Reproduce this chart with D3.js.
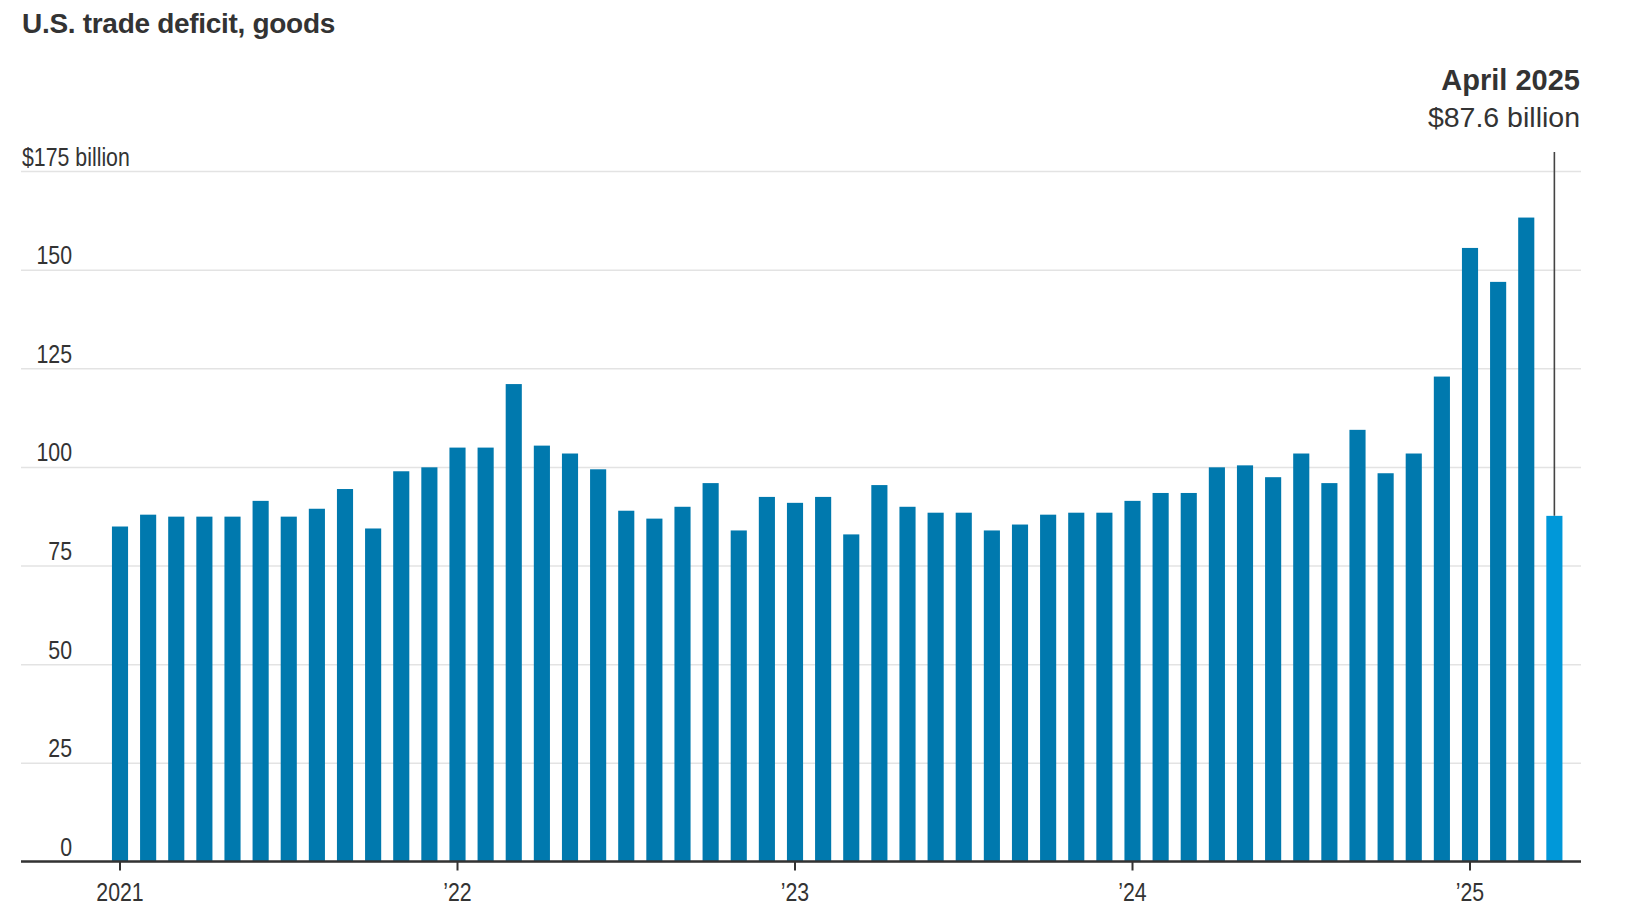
<!DOCTYPE html>
<html>
<head>
<meta charset="utf-8">
<script src="https://cdn.jsdelivr.net/npm/d3@7/dist/d3.min.js"></script>
<style>
  html, body { margin: 0; padding: 0; background: #fff; }
  svg { display: block; }
</style>
</head>
<body>
<svg id="chart" width="1630" height="920"></svg>
<script>
// ---------------- DATA ----------------
const months = d3.timeMonth.range(new Date(2021, 0, 1), new Date(2025, 4, 1)); // Jan 2021 .. Apr 2025
const deficit = [
  84.9, 87.9, 87.4, 87.4, 87.4, 91.4, 87.4, 89.4, 94.4, 84.4, 98.9, 99.9,      // 2021
  104.9, 104.9, 121.0, 105.4, 103.4, 99.4, 88.9, 86.9, 89.9, 95.9, 83.9, 92.4, // 2022
  90.9, 92.4, 82.9, 95.4, 89.9, 88.4, 88.4, 83.9, 85.4, 87.9, 88.4, 88.4,      // 2023
  91.4, 93.4, 93.4, 99.9, 100.4, 97.4, 103.4, 95.9, 109.4, 98.4, 103.4, 122.9, // 2024
  155.5, 146.9, 163.2, 87.6                                                    // 2025
];
const yTicks = [0, 25, 50, 75, 100, 125, 150, 175];
const yTickLabels = ["0", "25", "50", "75", "100", "125", "150", "$175 billion"];
const xTickLabels = ["2021", "\u201922", "\u201923", "\u201924", "\u201925"];
const titleText = "U.S. trade deficit, goods";
const annoTitle = "April 2025";
const annoValue = "$87.6 billion";

// ---------------- FONT PICK ----------------
function hasFont(name) {
  const c = document.createElement("canvas").getContext("2d");
  const s = "abcdefghijklmnopqrstuvwxyz0123456789";
  c.font = "40px monospace";
  const a = c.measureText(s).width;
  c.font = `40px "${name}", monospace`;
  const b = c.measureText(s).width;
  return Math.abs(a - b) > 0.5;
}
const narrowAvail = hasFont("Liberation Sans Narrow");
const narrowFamily = narrowAvail ? '"Liberation Sans Narrow", "Liberation Sans", Arial, sans-serif'
                                 : '"Liberation Sans", Arial, sans-serif';
const narrowScale = narrowAvail ? 1 : 0.82;
const mainFamily = '"Liberation Sans", Arial, sans-serif';

// ---------------- LAYOUT ----------------
const svg = d3.select("#chart");
const left = 21, right = 1581;
const textColor = "#333333";

const x = d3.scaleBand()
  .domain(months.map(d => +d))
  .range([105.94, 1568.44])
  .paddingInner(0.4267)
  .paddingOuter(0.21335);

const y = d3.scaleLinear().domain([0, 175]).range([861.5, 171]);

// Gridlines + y labels
const yAxis = d3.axisLeft(y)
  .tickValues(yTicks)
  .tickSize(-(right - left))
  .tickFormat((d, i) => yTickLabels[i]);

const gy = svg.append("g")
  .attr("transform", `translate(${left},0)`)
  .call(yAxis);
gy.select(".domain").remove();
gy.selectAll(".tick line")
  .attr("stroke", "#e3e3e3")
  .attr("stroke-width", 1.5);
gy.selectAll(".tick text").each(function (d, i) {
  const t = d3.select(this);
  const isTop = i === yTicks.length - 1;
  const ax = isTop ? 1 : 51;
  t.attr("x", null).attr("dy", null)
   .attr("transform", `translate(${ax},-6) scale(${narrowScale},1)`)
   .attr("text-anchor", isTop ? "start" : "end")
   .attr("fill", textColor)
   .style("font-family", narrowFamily)
   .style("font-size", "26px");
});

// Bars
const lastIdx = deficit.length - 1;
svg.append("g").selectAll("rect")
  .data(deficit)
  .join("rect")
  .attr("x", (d, i) => x(+months[i]))
  .attr("width", x.bandwidth())
  .attr("y", d => y(d))
  .attr("height", d => y(0) - y(d))
  .attr("fill", (d, i) => i === lastIdx ? "#0098d9" : "#0079ae");

// X axis
const janTicks = months.filter(d => d.getMonth() === 0).map(d => +d);
const xAxis = d3.axisBottom(x)
  .tickValues(janTicks)
  .tickSize(9)
  .tickFormat((d, i) => xTickLabels[i]);
const gx = svg.append("g")
  .attr("transform", `translate(0,${y(0)})`)
  .call(xAxis);
gx.select(".domain").remove();
gx.selectAll(".tick line").attr("stroke", textColor).attr("stroke-width", 2);
gx.selectAll(".tick text")
  .attr("y", null).attr("dy", null)
  .attr("transform", `translate(0,39) scale(${narrowScale},1)`)
  .attr("fill", textColor)
  .style("font-family", narrowFamily)
  .style("font-size", "26px");

svg.append("line")
  .attr("x1", left).attr("x2", right)
  .attr("y1", y(0)).attr("y2", y(0))
  .attr("stroke", textColor).attr("stroke-width", 2.5);

// Annotation line
const lx = x(+months[lastIdx]) + x.bandwidth() / 2;
svg.append("line")
  .attr("x1", lx).attr("x2", lx)
  .attr("y1", 152).attr("y2", y(deficit[lastIdx]))
  .attr("stroke", "#444").attr("stroke-width", 1.6);

svg.append("text")
  .attr("x", 1580).attr("y", 90)
  .attr("text-anchor", "end")
  .attr("fill", textColor)
  .style("font-family", mainFamily)
  .style("font-weight", "bold")
  .style("font-size", "29px")
  .text(annoTitle);

svg.append("text")
  .attr("x", 1580).attr("y", 127)
  .attr("text-anchor", "end")
  .attr("fill", textColor)
  .style("font-family", mainFamily)
  .style("font-size", "28.5px")
  .text(annoValue);

// Title
svg.append("text")
  .attr("x", 22).attr("y", 33)
  .attr("fill", textColor)
  .style("font-family", mainFamily)
  .style("font-weight", "bold")
  .style("font-size", "28px")
  .style("letter-spacing", "-0.3px")
  .text(titleText);
</script>
</body>
</html>
